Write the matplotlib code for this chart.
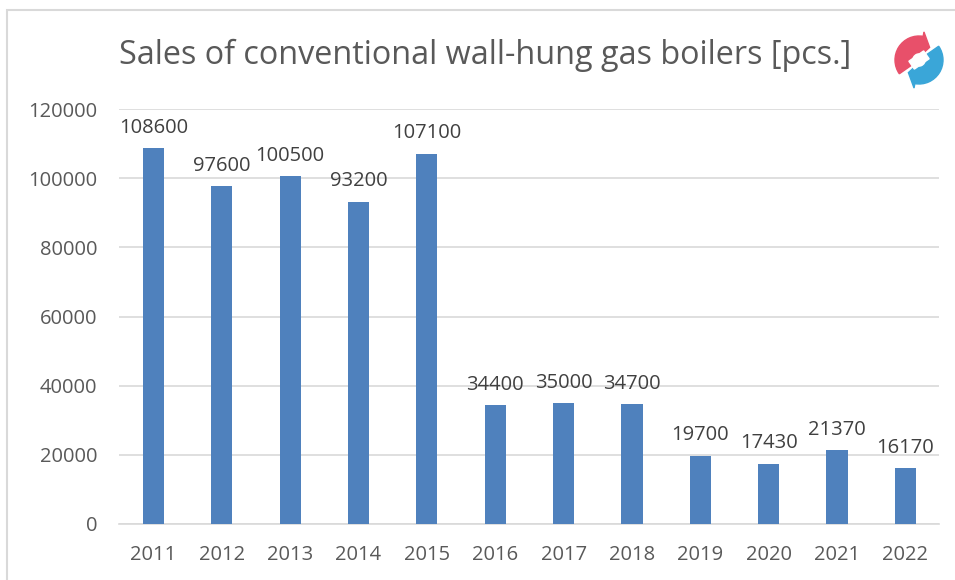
import matplotlib.pyplot as plt
import matplotlib.patches as mpatches
import numpy as np

# data
years = ["2011", "2012", "2013", "2014", "2015", "2016",
         "2017", "2018", "2019", "2020", "2021", "2022"]
sales = [108600, 97600, 100500, 93200, 107100, 34400,
         35000, 34700, 19700, 17430, 21370, 16170]

plt.rcParams['font.family'] = ['Open Sans', 'DejaVu Sans']
txt = "#595959"
blue = "#4F81BD"
grid = "#D9D9D9"

fig = plt.figure(figsize=(9.55, 5.8), dpi=100)
ax = fig.add_axes([0.125, 0.0966, 0.8587, 0.7154])

x = np.arange(len(years))
ax.bar(x, sales, width=0.31, color=blue, zorder=3)
for xi, v in zip(x, sales):
    ax.text(xi, v + 3000, str(v), ha="center", va="bottom",
            fontsize=14.5, color="#404040")

ax.set_xlim(-0.5, len(years) - 0.5)
ax.set_ylim(0, 120000)
ax.set_yticks(np.arange(0, 120001, 20000))
ax.set_xticks(x)
ax.set_xticklabels(years)
ax.tick_params(axis="both", length=0, colors=txt, labelsize=14.5)
ax.tick_params(axis="y", pad=16)
ax.tick_params(axis="x", pad=15)
ax.yaxis.grid(True, color=grid, lw=1.2, zorder=0)
for s in ["top", "right", "left"]:
    ax.spines[s].set_visible(False)
ax.spines["bottom"].set_color(grid)
ax.spines["bottom"].set_linewidth(1.2)

fig.text(0.125, 0.905, "Sales of conventional wall-hung gas boilers [pcs.]",
         fontsize=23.3, color=txt, ha="left", va="center")

# chart border
fig.patches.append(mpatches.Rectangle((7 / 955, -0.1), 1.1, 1 - 10 / 580 + 0.1,
                                      transform=fig.transFigure, fill=False,
                                      edgecolor=grid, lw=1.5))

# logo (two circling arrows)
lax = fig.add_axes([889 / 955, 1 - 90 / 580, 60 / 955, 60 / 580])
lax.set_xlim(-1, 1)
lax.set_ylim(-1, 1)
lax.set_aspect("equal")
lax.axis("off")


def arrow_head(ax_, ang_base, ang_tip, color):
    b = np.deg2rad(ang_base)
    t = np.deg2rad(ang_tip)
    pts = [(0.12 * np.cos(b), 0.12 * np.sin(b)),
           (0.95 * np.cos(b), 0.95 * np.sin(b)),
           (0.55 * np.cos(t), 0.55 * np.sin(t))]
    ax_.add_patch(mpatches.Polygon(pts, closed=True, color=color))


lax.add_patch(mpatches.Wedge((0, 0), 0.8, 80, 215, width=0.55, color="#E8506A"))
arrow_head(lax, 80, 50, "#E8506A")
lax.add_patch(mpatches.Wedge((0, 0), 0.8, 260, 35, width=0.55, color="#3AA6D8"))
arrow_head(lax, 260, 230, "#3AA6D8")
lax.add_patch(mpatches.Rectangle((-0.3, -0.16), 0.6, 0.32, angle=35,
                                 rotation_point="center", color="white"))

fig.savefig("out.png", dpi=100)
